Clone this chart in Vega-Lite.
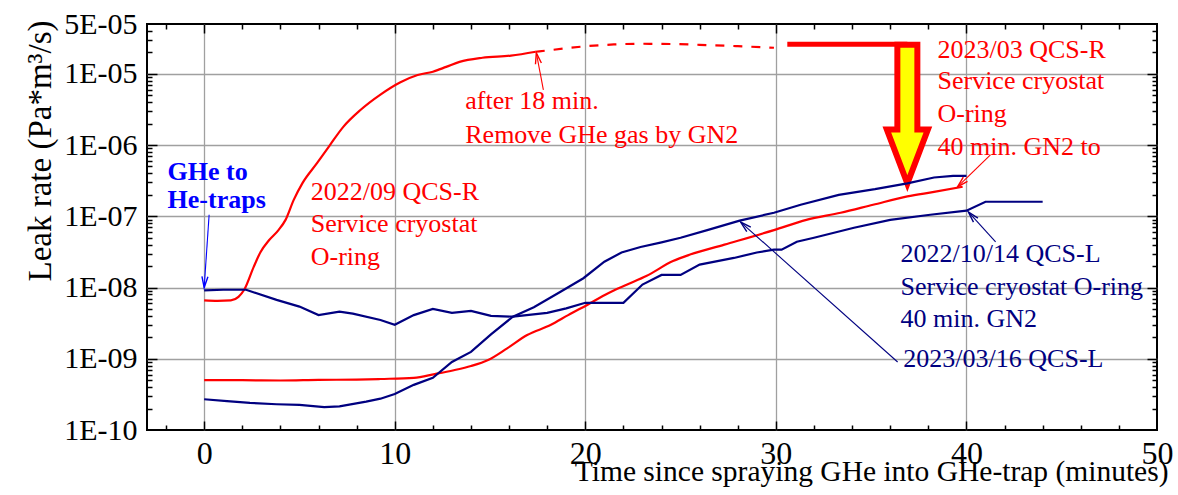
{
  "$schema": "https://vega.github.io/schema/vega-lite/v6.json",
  "width": 1010,
  "height": 406,
  "autosize": {"type": "none"},
  "padding": {"left": 147, "top": 24, "right": 21, "bottom": 65},
  "background": "white",
  "config": {
    "view": {"stroke": "#000000", "strokeWidth": 2},
    "font": "Liberation Serif",
    "axis": {
      "labelFont": "Liberation Serif",
      "titleFont": "Liberation Serif",
      "labelColor": "#000000",
      "titleColor": "#000000",
      "titleFontWeight": "normal",
      "tickColor": "#000000",
      "tickWidth": 1.5,
      "domain": false,
      "gridColor": "#a0a0a0",
      "gridWidth": 1.3,
      "gridOpacity": 1
    }
  },
  "datasets": {
    "lines": [
      {"series": "2022/09 QCS-R", "x": 0, "y": 6.6e-9},
      {"series": "2022/09 QCS-R", "x": 0.7, "y": 6.5e-9},
      {"series": "2022/09 QCS-R", "x": 1.4, "y": 6.6e-9},
      {"series": "2022/09 QCS-R", "x": 1.8, "y": 7.4e-9},
      {"series": "2022/09 QCS-R", "x": 2.1, "y": 9.3e-9},
      {"series": "2022/09 QCS-R", "x": 2.6, "y": 1.95e-8},
      {"series": "2022/09 QCS-R", "x": 2.96, "y": 3.16e-8},
      {"series": "2022/09 QCS-R", "x": 3.4, "y": 4.6e-8},
      {"series": "2022/09 QCS-R", "x": 3.9, "y": 6.4e-8},
      {"series": "2022/09 QCS-R", "x": 4.27, "y": 8.9e-8},
      {"series": "2022/09 QCS-R", "x": 4.7, "y": 1.7e-7},
      {"series": "2022/09 QCS-R", "x": 5.15, "y": 2.9e-7},
      {"series": "2022/09 QCS-R", "x": 5.93, "y": 5.6e-7},
      {"series": "2022/09 QCS-R", "x": 6.6, "y": 1.0e-6},
      {"series": "2022/09 QCS-R", "x": 7.3, "y": 1.8e-6},
      {"series": "2022/09 QCS-R", "x": 8.2, "y": 3.1e-6},
      {"series": "2022/09 QCS-R", "x": 9.25, "y": 5.1e-6},
      {"series": "2022/09 QCS-R", "x": 10.3, "y": 7.6e-6},
      {"series": "2022/09 QCS-R", "x": 11.2, "y": 9.6e-6},
      {"series": "2022/09 QCS-R", "x": 12.0, "y": 1.07e-5},
      {"series": "2022/09 QCS-R", "x": 12.7, "y": 1.25e-5},
      {"series": "2022/09 QCS-R", "x": 13.4, "y": 1.47e-5},
      {"series": "2022/09 QCS-R", "x": 14.6, "y": 1.68e-5},
      {"series": "2022/09 QCS-R", "x": 16.1, "y": 1.8e-5},
      {"series": "2022/09 QCS-R", "x": 17.4, "y": 2.04e-5},
      {"series": "2022/09 QCS-R after 18 min", "x": 17.4, "y": 2.04e-5},
      {"series": "2022/09 QCS-R after 18 min", "x": 18.3, "y": 2.17e-5},
      {"series": "2022/09 QCS-R after 18 min", "x": 19.9, "y": 2.42e-5},
      {"series": "2022/09 QCS-R after 18 min", "x": 21.5, "y": 2.58e-5},
      {"series": "2022/09 QCS-R after 18 min", "x": 22.9, "y": 2.64e-5},
      {"series": "2022/09 QCS-R after 18 min", "x": 24.5, "y": 2.62e-5},
      {"series": "2022/09 QCS-R after 18 min", "x": 26.0, "y": 2.55e-5},
      {"series": "2022/09 QCS-R after 18 min", "x": 28.0, "y": 2.44e-5},
      {"series": "2022/09 QCS-R after 18 min", "x": 29.9, "y": 2.32e-5},
      {"series": "2023/03 QCS-R", "x": 0, "y": 5.0e-10},
      {"series": "2023/03 QCS-R", "x": 2, "y": 5.0e-10},
      {"series": "2023/03 QCS-R", "x": 4, "y": 4.95e-10},
      {"series": "2023/03 QCS-R", "x": 6, "y": 5.05e-10},
      {"series": "2023/03 QCS-R", "x": 8, "y": 5.1e-10},
      {"series": "2023/03 QCS-R", "x": 9.25, "y": 5.2e-10},
      {"series": "2023/03 QCS-R", "x": 11.0, "y": 5.4e-10},
      {"series": "2023/03 QCS-R", "x": 12.1, "y": 6.1e-10},
      {"series": "2023/03 QCS-R", "x": 13.1, "y": 6.9e-10},
      {"series": "2023/03 QCS-R", "x": 14.0, "y": 7.9e-10},
      {"series": "2023/03 QCS-R", "x": 14.9, "y": 9.6e-10},
      {"series": "2023/03 QCS-R", "x": 15.9, "y": 1.4e-9},
      {"series": "2023/03 QCS-R", "x": 16.95, "y": 2.15e-9},
      {"series": "2023/03 QCS-R", "x": 18.2, "y": 3.0e-9},
      {"series": "2023/03 QCS-R", "x": 19.1, "y": 4.1e-9},
      {"series": "2023/03 QCS-R", "x": 20.1, "y": 5.7e-9},
      {"series": "2023/03 QCS-R", "x": 21.2, "y": 8.3e-9},
      {"series": "2023/03 QCS-R", "x": 22.2, "y": 1.1e-8},
      {"series": "2023/03 QCS-R", "x": 23.2, "y": 1.45e-8},
      {"series": "2023/03 QCS-R", "x": 24.6, "y": 2.35e-8},
      {"series": "2023/03 QCS-R", "x": 25.5, "y": 2.9e-8},
      {"series": "2023/03 QCS-R", "x": 27.3, "y": 4.0e-8},
      {"series": "2023/03 QCS-R", "x": 29.9, "y": 6.4e-8},
      {"series": "2023/03 QCS-R", "x": 31.6, "y": 8.9e-8},
      {"series": "2023/03 QCS-R", "x": 33.4, "y": 1.12e-7},
      {"series": "2023/03 QCS-R", "x": 35.1, "y": 1.45e-7},
      {"series": "2023/03 QCS-R", "x": 36.9, "y": 1.9e-7},
      {"series": "2023/03 QCS-R", "x": 38.3, "y": 2.2e-7},
      {"series": "2023/03 QCS-R", "x": 39.8, "y": 2.6e-7},
      {"series": "2022/10/14 QCS-L", "x": 0, "y": 9.1e-9},
      {"series": "2022/10/14 QCS-L", "x": 1.0, "y": 9.3e-9},
      {"series": "2022/10/14 QCS-L", "x": 2.2, "y": 9.3e-9},
      {"series": "2022/10/14 QCS-L", "x": 3.8, "y": 6.7e-9},
      {"series": "2022/10/14 QCS-L", "x": 5.0, "y": 5.4e-9},
      {"series": "2022/10/14 QCS-L", "x": 6.0, "y": 4.1e-9},
      {"series": "2022/10/14 QCS-L", "x": 7.1, "y": 4.6e-9},
      {"series": "2022/10/14 QCS-L", "x": 7.8, "y": 4.3e-9},
      {"series": "2022/10/14 QCS-L", "x": 9.25, "y": 3.5e-9},
      {"series": "2022/10/14 QCS-L", "x": 10.0, "y": 3.0e-9},
      {"series": "2022/10/14 QCS-L", "x": 11.0, "y": 4.1e-9},
      {"series": "2022/10/14 QCS-L", "x": 12.0, "y": 5.0e-9},
      {"series": "2022/10/14 QCS-L", "x": 13.0, "y": 4.4e-9},
      {"series": "2022/10/14 QCS-L", "x": 14.0, "y": 4.7e-9},
      {"series": "2022/10/14 QCS-L", "x": 15.05, "y": 4.0e-9},
      {"series": "2022/10/14 QCS-L", "x": 16.2, "y": 3.9e-9},
      {"series": "2022/10/14 QCS-L", "x": 18.0, "y": 4.4e-9},
      {"series": "2022/10/14 QCS-L", "x": 19.0, "y": 5.1e-9},
      {"series": "2022/10/14 QCS-L", "x": 20.0, "y": 6.1e-9},
      {"series": "2022/10/14 QCS-L", "x": 22.0, "y": 6.1e-9},
      {"series": "2022/10/14 QCS-L", "x": 23.0, "y": 1.1e-8},
      {"series": "2022/10/14 QCS-L", "x": 24.0, "y": 1.5e-8},
      {"series": "2022/10/14 QCS-L", "x": 25.0, "y": 1.5e-8},
      {"series": "2022/10/14 QCS-L", "x": 26.0, "y": 2.1e-8},
      {"series": "2022/10/14 QCS-L", "x": 27.8, "y": 2.6e-8},
      {"series": "2022/10/14 QCS-L", "x": 29.0, "y": 3.1e-8},
      {"series": "2022/10/14 QCS-L", "x": 29.9, "y": 3.4e-8},
      {"series": "2022/10/14 QCS-L", "x": 30.3, "y": 3.4e-8},
      {"series": "2022/10/14 QCS-L", "x": 31.1, "y": 4.4e-8},
      {"series": "2022/10/14 QCS-L", "x": 32.0, "y": 5.0e-8},
      {"series": "2022/10/14 QCS-L", "x": 34.1, "y": 6.9e-8},
      {"series": "2022/10/14 QCS-L", "x": 36.0, "y": 8.9e-8},
      {"series": "2022/10/14 QCS-L", "x": 38.1, "y": 1.05e-7},
      {"series": "2022/10/14 QCS-L", "x": 40.0, "y": 1.2e-7},
      {"series": "2022/10/14 QCS-L", "x": 41.0, "y": 1.6e-7},
      {"series": "2022/10/14 QCS-L", "x": 44.0, "y": 1.6e-7},
      {"series": "2023/03/16 QCS-L", "x": 0, "y": 2.7e-10},
      {"series": "2023/03/16 QCS-L", "x": 1.2, "y": 2.55e-10},
      {"series": "2023/03/16 QCS-L", "x": 2.4, "y": 2.4e-10},
      {"series": "2023/03/16 QCS-L", "x": 3.8, "y": 2.3e-10},
      {"series": "2023/03/16 QCS-L", "x": 5.0, "y": 2.25e-10},
      {"series": "2023/03/16 QCS-L", "x": 6.3, "y": 2.1e-10},
      {"series": "2023/03/16 QCS-L", "x": 7.1, "y": 2.15e-10},
      {"series": "2023/03/16 QCS-L", "x": 8.5, "y": 2.5e-10},
      {"series": "2023/03/16 QCS-L", "x": 9.25, "y": 2.75e-10},
      {"series": "2023/03/16 QCS-L", "x": 10.0, "y": 3.2e-10},
      {"series": "2023/03/16 QCS-L", "x": 11.0, "y": 4.3e-10},
      {"series": "2023/03/16 QCS-L", "x": 12.0, "y": 5.4e-10},
      {"series": "2023/03/16 QCS-L", "x": 13.0, "y": 9.0e-10},
      {"series": "2023/03/16 QCS-L", "x": 14.0, "y": 1.25e-9},
      {"series": "2023/03/16 QCS-L", "x": 15.05, "y": 2.2e-9},
      {"series": "2023/03/16 QCS-L", "x": 16.2, "y": 3.9e-9},
      {"series": "2023/03/16 QCS-L", "x": 17.3, "y": 5.3e-9},
      {"series": "2023/03/16 QCS-L", "x": 18.7, "y": 8.7e-9},
      {"series": "2023/03/16 QCS-L", "x": 19.9, "y": 1.35e-8},
      {"series": "2023/03/16 QCS-L", "x": 21.0, "y": 2.3e-8},
      {"series": "2023/03/16 QCS-L", "x": 21.9, "y": 3.1e-8},
      {"series": "2023/03/16 QCS-L", "x": 22.9, "y": 3.7e-8},
      {"series": "2023/03/16 QCS-L", "x": 24.0, "y": 4.3e-8},
      {"series": "2023/03/16 QCS-L", "x": 25.0, "y": 5.0e-8},
      {"series": "2023/03/16 QCS-L", "x": 26.4, "y": 6.4e-8},
      {"series": "2023/03/16 QCS-L", "x": 28.1, "y": 8.7e-8},
      {"series": "2023/03/16 QCS-L", "x": 29.9, "y": 1.12e-7},
      {"series": "2023/03/16 QCS-L", "x": 31.3, "y": 1.45e-7},
      {"series": "2023/03/16 QCS-L", "x": 33.3, "y": 2.0e-7},
      {"series": "2023/03/16 QCS-L", "x": 35.2, "y": 2.4e-7},
      {"series": "2023/03/16 QCS-L", "x": 36.9, "y": 2.9e-7},
      {"series": "2023/03/16 QCS-L", "x": 38.3, "y": 3.5e-7},
      {"series": "2023/03/16 QCS-L", "x": 39.3, "y": 3.7e-7},
      {"series": "2023/03/16 QCS-L", "x": 40.0, "y": 3.7e-7}
    ],
    "labels": [
      {"side": "GHe", "x": -1.92, "y": 4.2e-7, "text": "GHe to"},
      {"side": "GHe", "x": -1.92, "y": 1.7e-7, "text": "He-traps"},
      {"side": "QCS-R", "x": 5.59, "y": 2.2e-7, "text": "2022/09 QCS-R"},
      {"side": "QCS-R", "x": 5.59, "y": 7.8e-8, "text": "Service cryostat"},
      {"side": "QCS-R", "x": 5.59, "y": 2.7e-8, "text": "O-ring"},
      {"side": "QCS-R", "x": 13.7, "y": 4.2e-6, "text": "after 18 min."},
      {"side": "QCS-R", "x": 13.7, "y": 1.39e-6, "text": "Remove GHe gas by GN2"},
      {"side": "QCS-R", "x": 38.48, "y": 2.17e-5, "text": "2023/03 QCS-R"},
      {"side": "QCS-R", "x": 38.48, "y": 7.97e-6, "text": "Service cryostat"},
      {"side": "QCS-R", "x": 38.48, "y": 2.74e-6, "text": "O-ring"},
      {"side": "QCS-R", "x": 38.48, "y": 9.4e-7, "text": "40 min. GN2 to"},
      {"side": "QCS-L", "x": 36.54, "y": 2.96e-8, "text": "2022/10/14 QCS-L"},
      {"side": "QCS-L", "x": 36.54, "y": 1.02e-8, "text": "Service cryostat O-ring"},
      {"side": "QCS-L", "x": 36.54, "y": 3.62e-9, "text": "40 min. GN2"},
      {"side": "QCS-L", "x": 36.69, "y": 9.9e-10, "text": "2023/03/16 QCS-L"}
    ],
    "arrows": [
      {"id": "ghe", "side": "GHe", "x": 0.26, "y": 1.05e-7, "x2": 0, "y2": 1.0e-8},
      {"id": "after18", "side": "QCS-R", "x": 17.8, "y": 5.96e-6, "x2": 17.43, "y2": 1.97e-5},
      {"id": "r2023", "side": "QCS-R", "x": 41.26, "y": 7.3e-7, "x2": 39.53, "y2": 2.59e-7},
      {"id": "l2022", "side": "QCS-L", "x": 41.53, "y": 4.37e-8, "x2": 40.1, "y2": 1.15e-7},
      {"id": "l2023", "side": "QCS-L", "x": 36.39, "y": 9.0e-10, "x2": 28.15, "y2": 8.3e-8}
    ],
    "bigArrow": [
      {"part": "bar", "x": 30.6, "x2": 36.9, "y": 2.6e-5},
      {"part": "shaft", "x": 36.9, "y": 2.81e-5, "y2": 1.63e-6},
      {"part": "head", "x": 36.9, "y": 6.88e-7},
      {"part": "fill", "x": 36.9, "y": 2.32e-5, "y2": 1.44e-6}
    ]
  },
  "encoding": {
    "x": {"field": "x", "type": "quantitative", "scale": {"domain": [-3, 50], "nice": false, "zero": false}, "axis": null},
    "y": {"field": "y", "type": "quantitative", "scale": {"type": "log", "domain": [1e-10, 5e-5], "nice": false}, "axis": null}
  },
  "resolve": {"axis": {"x": "independent", "y": "independent"}},
  "layer": [
    {
      "data": {"name": "bigArrow"},
      "transform": [{"filter": "datum.part == 'bar'"}],
      "mark": {"type": "rule", "color": "#ff0000", "strokeWidth": 5, "strokeCap": "butt"},
      "encoding": {"x2": {"field": "x2"}}
    },
    {
      "data": {"name": "bigArrow"},
      "transform": [{"filter": "datum.part == 'shaft'"}],
      "mark": {"type": "rule", "color": "#ff0000", "strokeWidth": 26, "strokeCap": "butt"},
      "encoding": {"y2": {"field": "y2"}}
    },
    {
      "data": {"name": "bigArrow"},
      "transform": [{"filter": "datum.part == 'head'"}],
      "mark": {"type": "point", "shape": "M -0.76 -1 L 0.76 -1 L 0 1 Z", "size": 2916, "filled": true, "fill": "#ffff00", "stroke": "#ff0000", "strokeWidth": 6, "strokeJoin": "miter", "strokeMiterLimit": 10, "opacity": 1}
    },
    {
      "data": {"name": "bigArrow"},
      "transform": [{"filter": "datum.part == 'fill'"}],
      "mark": {"type": "rule", "color": "#ffff00", "strokeWidth": 14, "strokeCap": "butt"},
      "encoding": {"y2": {"field": "y2"}}
    },
    {
      "data": {"name": "lines"},
      "transform": [{"filter": "datum.series == '2022/09 QCS-R'"}],
      "mark": {"type": "line", "color": "#ff0000", "strokeWidth": 2.2, "interpolate": "monotone"},
      "encoding": {
        "x": {"field": "x", "type": "quantitative", "scale": {"domain": [-3, 50], "nice": false, "zero": false},
          "axis": {"orient": "bottom", "values": [0, 10, 20, 30, 40, 50], "ticks": false, "grid": false, "labelFontSize": 32, "labelPadding": 8, "labelFlush": false, "labelOverlap": false,
            "title": "Time since spraying GHe into GHe-trap (minutes)", "titleFontSize": 29.5, "titleX": 1021, "titleY": 50, "titleAlign": "right", "titleBaseline": "alphabetic", "titleAngle": 0}},
        "y": {"field": "y", "type": "quantitative", "scale": {"type": "log", "domain": [1e-10, 5e-5], "nice": false},
          "axis": {"orient": "left", "values": [1e-10, 1e-9, 1e-8, 1e-7, 1e-6, 1e-5, 5e-5], "ticks": false, "grid": false, "labelFontSize": 30, "labelPadding": 10, "labelFlush": false, "labelOverlap": false,
            "labelExpr": "(datum.value > 2e-5 ? '5' : '1') + 'E-' + (-floor(log(datum.value)/LN10 + 1e-9) < 10 ? '0' : '') + (-floor(log(datum.value)/LN10 + 1e-9))",
            "title": "Leak rate (Pa*m³/s)", "titleFontSize": 33, "titleAngle": -90, "titleX": -97, "titleY": -4, "titleAlign": "right", "titleBaseline": "alphabetic"}}
      }
    },
    {
      "data": {"name": "lines"},
      "transform": [{"filter": "datum.series == '2022/09 QCS-R after 18 min'"}],
      "mark": {"type": "line", "color": "#ff0000", "strokeWidth": 2.2, "interpolate": "monotone", "strokeDash": [9, 9]},
      "encoding": {
        "x": {"field": "x", "type": "quantitative", "scale": {"domain": [-3, 50], "nice": false, "zero": false},
          "axis": {"orient": "bottom", "values": [-2, 2, 4, 6, 8, 12, 14, 16, 18, 22, 24, 26, 28, 32, 34, 36, 38, 42, 44, 46, 48], "labels": false, "grid": false, "tickSize": -5, "title": null}},
        "y": {"field": "y", "type": "quantitative", "scale": {"type": "log", "domain": [1e-10, 5e-5], "nice": false},
          "axis": {"orient": "left", "values": [2e-10, 3e-10, 4e-10, 5e-10, 6e-10, 7e-10, 8e-10, 9e-10, 2e-9, 3e-9, 4e-9, 5e-9, 6e-9, 7e-9, 8e-9, 9e-9, 2e-8, 3e-8, 4e-8, 5e-8, 6e-8, 7e-8, 8e-8, 9e-8, 2e-7, 3e-7, 4e-7, 5e-7, 6e-7, 7e-7, 8e-7, 9e-7, 2e-6, 3e-6, 4e-6, 5e-6, 6e-6, 7e-6, 8e-6, 9e-6, 2e-5, 3e-5, 4e-5], "labels": false, "grid": false, "tickSize": -5, "title": null}}
      }
    },
    {
      "data": {"name": "lines"},
      "transform": [{"filter": "datum.series == '2023/03 QCS-R'"}],
      "mark": {"type": "line", "color": "#ff0000", "strokeWidth": 2.2, "interpolate": "monotone"},
      "encoding": {
        "x": {"field": "x", "type": "quantitative", "scale": {"domain": [-3, 50], "nice": false, "zero": false},
          "axis": {"orient": "bottom", "values": [0, 10, 20, 30, 40], "labels": false, "grid": true, "tickSize": -9, "title": null}},
        "y": {"field": "y", "type": "quantitative", "scale": {"type": "log", "domain": [1e-10, 5e-5], "nice": false},
          "axis": {"orient": "left", "values": [1e-9, 1e-8, 1e-7, 1e-6, 1e-5], "labels": false, "grid": true, "tickSize": -10, "title": null}}
      }
    },
    {
      "data": {"name": "lines"},
      "transform": [{"filter": "datum.series == '2022/10/14 QCS-L'"}],
      "mark": {"type": "line", "color": "#000080", "strokeWidth": 2.2},
      "encoding": {
        "x": {"field": "x", "type": "quantitative", "scale": {"domain": [-3, 50], "nice": false, "zero": false},
          "axis": {"orient": "top", "values": [0, 10, 20, 30, 40], "labels": false, "grid": false, "tickSize": -9, "title": null}},
        "y": {"field": "y", "type": "quantitative", "scale": {"type": "log", "domain": [1e-10, 5e-5], "nice": false},
          "axis": {"orient": "right", "values": [1e-9, 1e-8, 1e-7, 1e-6, 1e-5], "labels": false, "grid": false, "tickSize": -10, "title": null}}
      }
    },
    {
      "data": {"name": "lines"},
      "transform": [{"filter": "datum.series == '2023/03/16 QCS-L'"}],
      "mark": {"type": "line", "color": "#000080", "strokeWidth": 2.2},
      "encoding": {
        "x": {"field": "x", "type": "quantitative", "scale": {"domain": [-3, 50], "nice": false, "zero": false},
          "axis": {"orient": "top", "values": [-2, 2, 4, 6, 8, 12, 14, 16, 18, 22, 24, 26, 28, 32, 34, 36, 38, 42, 44, 46, 48], "labels": false, "grid": false, "tickSize": -5, "title": null}},
        "y": {"field": "y", "type": "quantitative", "scale": {"type": "log", "domain": [1e-10, 5e-5], "nice": false},
          "axis": {"orient": "right", "values": [2e-10, 3e-10, 4e-10, 5e-10, 6e-10, 7e-10, 8e-10, 9e-10, 2e-9, 3e-9, 4e-9, 5e-9, 6e-9, 7e-9, 8e-9, 9e-9, 2e-8, 3e-8, 4e-8, 5e-8, 6e-8, 7e-8, 8e-8, 9e-8, 2e-7, 3e-7, 4e-7, 5e-7, 6e-7, 7e-7, 8e-7, 9e-7, 2e-6, 3e-6, 4e-6, 5e-6, 6e-6, 7e-6, 8e-6, 9e-6, 2e-5, 3e-5, 4e-5], "labels": false, "grid": false, "tickSize": -5, "title": null}}
      }
    },
    {
      "data": {"name": "arrows"},
      "mark": {"type": "rule", "strokeWidth": 1.1},
      "encoding": {
        "x2": {"field": "x2"},
        "y2": {"field": "y2"},
        "color": {"field": "side", "type": "nominal", "scale": {"domain": ["QCS-R", "QCS-L", "GHe"], "range": ["#ff0000", "#000080", "#0000ff"]}, "legend": null}
      }
    },
    {
      "data": {"name": "arrows"},
      "transform": [{"filter": "datum.id == 'ghe'"}],
      "mark": {"type": "point", "shape": "M -3 11 L 0 0 L 3 11", "size": 4, "filled": false, "strokeWidth": 1.4, "opacity": 1, "angle": 184},
      "encoding": {
        "x": {"field": "x2", "type": "quantitative", "scale": {"domain": [-3, 50], "nice": false, "zero": false}, "axis": null},
        "y": {"field": "y2", "type": "quantitative", "scale": {"type": "log", "domain": [1e-10, 5e-5], "nice": false}, "axis": null},
        "color": {"field": "side", "type": "nominal", "legend": null}
      }
    },
    {
      "data": {"name": "arrows"},
      "transform": [{"filter": "datum.id == 'after18'"}],
      "mark": {"type": "point", "shape": "M -3 11 L 0 0 L 3 11", "size": 4, "filled": false, "strokeWidth": 1.4, "opacity": 1, "angle": -11},
      "encoding": {
        "x": {"field": "x2", "type": "quantitative", "scale": {"domain": [-3, 50], "nice": false, "zero": false}, "axis": null},
        "y": {"field": "y2", "type": "quantitative", "scale": {"type": "log", "domain": [1e-10, 5e-5], "nice": false}, "axis": null},
        "color": {"field": "side", "type": "nominal", "legend": null}
      }
    },
    {
      "data": {"name": "arrows"},
      "transform": [{"filter": "datum.id == 'r2023'"}],
      "mark": {"type": "point", "shape": "M -3 11 L 0 0 L 3 11", "size": 4, "filled": false, "strokeWidth": 1.4, "opacity": 1, "angle": 226},
      "encoding": {
        "x": {"field": "x2", "type": "quantitative", "scale": {"domain": [-3, 50], "nice": false, "zero": false}, "axis": null},
        "y": {"field": "y2", "type": "quantitative", "scale": {"type": "log", "domain": [1e-10, 5e-5], "nice": false}, "axis": null},
        "color": {"field": "side", "type": "nominal", "legend": null}
      }
    },
    {
      "data": {"name": "arrows"},
      "transform": [{"filter": "datum.id == 'l2022'"}],
      "mark": {"type": "point", "shape": "M -3 11 L 0 0 L 3 11", "size": 4, "filled": false, "strokeWidth": 1.4, "opacity": 1, "angle": -42},
      "encoding": {
        "x": {"field": "x2", "type": "quantitative", "scale": {"domain": [-3, 50], "nice": false, "zero": false}, "axis": null},
        "y": {"field": "y2", "type": "quantitative", "scale": {"type": "log", "domain": [1e-10, 5e-5], "nice": false}, "axis": null},
        "color": {"field": "side", "type": "nominal", "legend": null}
      }
    },
    {
      "data": {"name": "arrows"},
      "transform": [{"filter": "datum.id == 'l2023'"}],
      "mark": {"type": "point", "shape": "M -3 11 L 0 0 L 3 11", "size": 4, "filled": false, "strokeWidth": 1.4, "opacity": 1, "angle": -48},
      "encoding": {
        "x": {"field": "x2", "type": "quantitative", "scale": {"domain": [-3, 50], "nice": false, "zero": false}, "axis": null},
        "y": {"field": "y2", "type": "quantitative", "scale": {"type": "log", "domain": [1e-10, 5e-5], "nice": false}, "axis": null},
        "color": {"field": "side", "type": "nominal", "legend": null}
      }
    },
    {
      "data": {"name": "labels"},
      "transform": [{"filter": "datum.side != 'GHe'"}],
      "mark": {"type": "text", "font": "Liberation Serif", "fontSize": 26, "align": "left", "baseline": "middle"},
      "encoding": {
        "text": {"field": "text"},
        "color": {"field": "side", "type": "nominal", "legend": null}
      }
    },
    {
      "data": {"name": "labels"},
      "transform": [{"filter": "datum.side == 'GHe'"}],
      "mark": {"type": "text", "font": "Liberation Serif", "fontSize": 26, "fontWeight": "bold", "align": "left", "baseline": "middle"},
      "encoding": {
        "text": {"field": "text"},
        "color": {"field": "side", "type": "nominal", "legend": null}
      }
    }
  ]
}
